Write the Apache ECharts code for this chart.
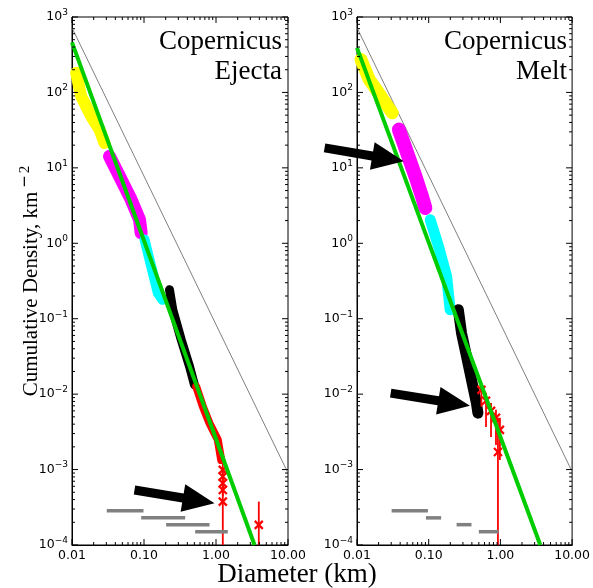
<!DOCTYPE html>
<html><head><meta charset="utf-8">
<script src="https://cdn.jsdelivr.net/npm/echarts@6/dist/echarts.min.js"></script>
<style>html,body{margin:0;padding:0;background:#fff}#c{width:593px;height:588px}</style>
</head><body><div id="c"></div>
<script>
// ---------- data ----------
const xTickLabels = ['0.01', '0.10', '1.00', '10.00'];
const yTickExponents = [-4, -3, -2, -1, 0, 1, 2, 3];
const panelTitles = ['Copernicus\nEjecta', 'Copernicus\nMelt'];
const xAxisTitle = 'Diameter (km)';
const yAxisTitle = 'Cumulative Density, km';
const yAxisTitleExp = ['\u2212', '2'];

// Ejecta panel
const ejYellow  = [[0.01143, 182], [0.0134, 88.9], [0.0185, 48.3], [0.0241, 32.2], [0.0282, 21.4]];
const ejMagenta = [[0.0332, 14.2], [0.0482, 6.98], [0.0664, 3.79], [0.0867, 2.05], [0.0914, 1.37]];
const ejCyan    = [[0.1016, 1.12], [0.126, 0.493], [0.1555, 0.219], [0.18, 0.178]];
const ejBlack   = [[0.226, 0.242], [0.251, 0.1315], [0.329, 0.0526], [0.4285, 0.0233], [0.502, 0.0133]];
const ejRed     = [[0.531, 0.0126], [0.656, 0.00684], [0.812, 0.00412], [1.059, 0.00248], [1.181, 0.00134]];
// [D, N, N low, N high]
const ejRedErr  = [[1.243, 9.9e-4, 8.5e-4, 1.21e-3], [1.243, 8.07e-4, 7e-4, 9.5e-4], [1.243, 6.6e-4, 5.5e-4, 8e-4],
                   [1.243, 5.37e-4, 4.4e-4, 6.6e-4], [1.243, 3.76e-4, 1e-4, 7e-4], [3.93, 1.85e-4, 1e-4, 3.76e-4]];
const ejFit     = [[0.01, 460], [3.43, 1e-4]];
const ejEquil   = [[0.01, 720], [10, 9e-4]];
// [D start, D end, N]
const ejBins    = [[0.0304, 0.0984, 2.85e-4], [0.0914, 0.373, 2.29e-4], [0.203, 0.812, 1.86e-4], [0.514, 1.46, 1.50e-4]];
// [D tail, N tail, D tip, N tip]
const ejArrows  = [[0.0738, 5.37e-4, 0.953, 3.57e-4]];

// Melt panel
const meYellow  = [[0.01136, 273], [0.0148, 148], [0.0215, 88.9], [0.031, 53.6]];
const meMagenta = [[0.0384, 32.2], [0.05, 15.8], [0.0653, 7.71], [0.0806, 4.19], [0.0897, 2.94]];
const meCyan    = [[0.105, 2.05], [0.137, 0.91], [0.178, 0.363], [0.199, 0.1315]];
const meBlack   = [[0.259, 0.1315], [0.287, 0.0645], [0.337, 0.0316], [0.395, 0.0155], [0.463, 0.0076], [0.486, 0.0056]];
const meRedErr  = [[0.543, 0.0114, 0.0068, 0.0141], [0.630, 0.00815, 0.00368, 0.0104], [0.740, 0.0060, 0.00271, 0.00766],
                   [0.867, 0.00485, 0.00212, 0.0062], [0.984, 0.00336, 0.00134, 0.00485], [0.924, 0.00171, 1e-4, 0.00485]];
const meFit     = [[0.01, 390], [3.6, 1e-4]];
const meEquil   = [[0.01, 720], [10, 9.4e-4]];
const meBins    = [[0.0304, 0.0975, 2.85e-4], [0.0915, 0.149, 2.29e-4], [0.245, 0.395, 1.86e-4], [0.5, 0.944, 1.50e-4]];
const meArrows  = [[0.00353, 18.4, 0.045, 12.2], [0.0295, 0.0103, 0.3755, 0.0070]];

// ---------- chart ----------
const SERIF = '"Liberation Serif", "Times New Roman", serif';
const SANS = '"DejaVu Sans", sans-serif';
const grids = [
  { left: 72, top: 17, width: 216, height: 528 },
  { left: 357, top: 17, width: 218, height: 528 }
];

// tick positions (majors at decades, minors at 2..9 times each decade)
function tickList(lo, hi) {
  const out = [];
  for (let d = lo; d <= hi; d++) {
    out.push([Math.pow(10, d), 6]);
    if (d < hi) for (let k = 2; k <= 9; k++) out.push([k * Math.pow(10, d), 3]);
  }
  return out;
}
const xTicks = tickList(-2, 1);
const yTicks = tickList(-4, 3);

function xTickRender(params, api) {
  const cs = params.coordSys;
  const x = api.coord([api.value(0), 1])[0];
  const len = api.value(2);
  const st = { stroke: '#000', lineWidth: 1 };
  return { type: 'group', children: [
    { type: 'line', shape: { x1: x, y1: cs.y + cs.height, x2: x, y2: cs.y + cs.height - len }, style: st },
    { type: 'line', shape: { x1: x, y1: cs.y, x2: x, y2: cs.y + len }, style: st }
  ]};
}
function yTickRender(params, api) {
  const cs = params.coordSys;
  const y = api.coord([1, api.value(1)])[1];
  const len = api.value(2);
  const st = { stroke: '#000', lineWidth: 1 };
  return { type: 'group', children: [
    { type: 'line', shape: { x1: cs.x, y1: y, x2: cs.x + len, y2: y }, style: st },
    { type: 'line', shape: { x1: cs.x + cs.width, y1: y, x2: cs.x + cs.width - len, y2: y }, style: st }
  ]};
}
function errRender(params, api) {
  const x = api.value(0), y = api.value(1);
  const p = api.coord([x, y]), pl = api.coord([x, api.value(2)]), ph = api.coord([x, api.value(3)]);
  const s = 4;
  const st = { stroke: '#ff0000', lineWidth: 2.2 };
  return { type: 'group', children: [
    { type: 'line', shape: { x1: pl[0], y1: pl[1], x2: ph[0], y2: ph[1] }, style: { stroke: '#ff0000', lineWidth: 1.8 } },
    { type: 'line', shape: { x1: p[0] - s, y1: p[1] - s, x2: p[0] + s, y2: p[1] + s }, style: st },
    { type: 'line', shape: { x1: p[0] - s, y1: p[1] + s, x2: p[0] + s, y2: p[1] - s }, style: st }
  ]};
}
function binRender(params, api) {
  const a = api.coord([api.value(0), api.value(2)]);
  const b = api.coord([api.value(1), api.value(2)]);
  return { type: 'line', shape: { x1: a[0], y1: a[1], x2: b[0], y2: b[1] }, style: { stroke: '#808080', lineWidth: 3.5 } };
}
function arrowRender(params, api) {
  const a = api.coord([api.value(0), api.value(1)]);
  const b = api.coord([api.value(2), api.value(3)]);
  const dx = b[0] - a[0], dy = b[1] - a[1], L = Math.hypot(dx, dy);
  const ux = dx / L, uy = dy / L, nx = -uy, ny = ux;
  const hl = 32, hw = 14, sw = 4.5;
  const bx = b[0] - ux * hl, by = b[1] - uy * hl;
  const pts = [[a[0] + nx * sw, a[1] + ny * sw], [bx + nx * sw, by + ny * sw], [bx + nx * hw, by + ny * hw], [b[0], b[1]],
               [bx - nx * hw, by - ny * hw], [bx - nx * sw, by - ny * sw], [a[0] - nx * sw, a[1] - ny * sw]];
  return { type: 'polygon', shape: { points: pts }, style: { fill: '#000' } };
}

function band(idx, data, color, width, z) {
  return { type: 'line', xAxisIndex: idx, yAxisIndex: idx, data: data, showSymbol: false, symbol: 'none', z: z,
    lineStyle: { color: color, width: width, cap: 'round', join: 'round' }, silent: true, animation: false };
}
function custom(idx, data, render, z) {
  return { type: 'custom', xAxisIndex: idx, yAxisIndex: idx, data: data, renderItem: render, z: z, clip: false,
    encode: { x: 0, y: 1 }, silent: true, animation: false };
}

function panelSeries(idx, p) {
  return [
    { type: 'line', xAxisIndex: idx, yAxisIndex: idx, data: p.equil, showSymbol: false, symbol: 'none', z: 1,
      lineStyle: { color: '#808080', width: 1 }, silent: true, animation: false },
    band(idx, p.yellow, '#ffff00', p.w[0], 2),
    band(idx, p.magenta, '#ff00ff', p.w[1], 3),
    band(idx, p.cyan, '#00ffff', p.w[2], 4),
    band(idx, p.black, '#000000', p.w[3], 5),
    p.red ? band(idx, p.red, '#ff0000', p.w[4], 6) : null,
    custom(idx, p.err, errRender, 7),
    { type: 'line', xAxisIndex: idx, yAxisIndex: idx, data: p.fit, showSymbol: false, symbol: 'none', z: 8,
      lineStyle: { color: '#00cc00', width: 4 }, silent: true, animation: false },
    custom(idx, p.bins, binRender, 9),
    custom(idx, p.arrows, arrowRender, 10),
    custom(idx, xTicks.map(t => [t[0], 1, t[1]]), xTickRender, 11),
    custom(idx, yTicks.map(t => [1, t[0], t[1]]), yTickRender, 11)
  ].filter(Boolean);
}

const panels = [
  { yellow: ejYellow, magenta: ejMagenta, cyan: ejCyan, black: ejBlack, red: ejRed, err: ejRedErr, fit: ejFit,
    equil: ejEquil, bins: ejBins, arrows: ejArrows, w: [12, 13, 10, 9, 8] },
  { yellow: meYellow, magenta: meMagenta, cyan: meCyan, black: meBlack, red: null, err: meRedErr, fit: meFit,
    equil: meEquil, bins: meBins, arrows: meArrows, w: [13, 14, 11, 11, 8] }
];

function xFmt(v) {
  const i = Math.round(Math.log10(v)) + 2;
  return xTickLabels[i] || '';
}
function yFmt(v) {
  const e = Math.round(Math.log10(v));
  if (yTickExponents.indexOf(e) < 0) return '';
  return '{b|10}{s|' + (e < 0 ? '\u2212' + (-e) : String(e)) + '}';
}

const xAxes = grids.map((g, i) => ({
  type: 'log', logBase: 10, gridIndex: i, min: 0.01, max: 10, splitNumber: 3,
  axisLine: { show: true, onZero: false, lineStyle: { color: '#000', width: 1 } },
  axisTick: { show: false }, splitLine: { show: false }, minorTick: { show: false },
  axisLabel: { formatter: xFmt, margin: 4, color: '#000', fontFamily: SANS, fontSize: 12.5 }
}));
const yAxes = grids.map((g, i) => ({
  type: 'log', logBase: 10, gridIndex: i, min: 1e-4, max: 1e3, splitNumber: 7,
  axisLine: { show: true, onZero: false, lineStyle: { color: '#000', width: 1 } },
  axisTick: { show: false }, splitLine: { show: false }, minorTick: { show: false },
  axisLabel: { formatter: yFmt, margin: 4, color: '#000', fontFamily: SANS,
    rich: { b: { fontSize: 12.5, fontFamily: SANS, color: '#000' },
            s: { fontSize: 9, fontFamily: SANS, color: '#000', padding: [0, 0, 9, 0] } } },
  name: i === 0 ? yAxisTitle + '{m|' + yAxisTitleExp[0] + '}{n|' + yAxisTitleExp[1] + '}' : '',
  nameLocation: 'middle', nameRotate: 90, nameGap: 28, nameMoveOverlap: false,
  nameTextStyle: { fontFamily: SERIF, fontSize: 21, color: '#000',
    rich: { m: { fontFamily: SANS, fontSize: 15, color: '#000', padding: [0, 2, 11, 4] },
            n: { fontFamily: SERIF, fontSize: 15, color: '#000', padding: [0, 0, 11, 0] } } }
}));

const chart = echarts.init(document.getElementById('c'), null, { renderer: 'canvas' });
chart.setOption({
  animation: false,
  backgroundColor: '#fff',
  grid: grids.map(g => Object.assign({ show: true, borderColor: '#000', borderWidth: 1, backgroundColor: 'transparent' }, g)),
  xAxis: xAxes,
  yAxis: yAxes,
  series: panelSeries(0, panels[0]).concat(panelSeries(1, panels[1])),
  graphic: [
    { type: 'text', x: grids[0].left + grids[0].width - 6, y: 27, z: 20,
      style: { text: panelTitles[0], font: '27px ' + SERIF, fill: '#000', textAlign: 'right', textVerticalAlign: 'top', lineHeight: 30 } },
    { type: 'text', x: grids[1].left + grids[1].width - 8, y: 27, z: 20,
      style: { text: panelTitles[1], font: '27px ' + SERIF, fill: '#000', textAlign: 'right', textVerticalAlign: 'top', lineHeight: 30 } },
    { type: 'text', x: 297, y: 575, z: 20,
      style: { text: xAxisTitle, font: '27px ' + SERIF, fill: '#000', textAlign: 'center', textVerticalAlign: 'middle' } }
  ]
});
</script></body></html>
